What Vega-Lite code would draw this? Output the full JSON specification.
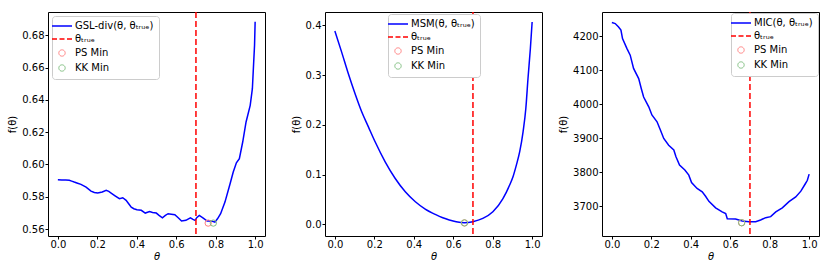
{
  "$schema": "https://vega.github.io/schema/vega-lite/v6.json",
  "padding": {"left": 7, "top": 10, "right": 0, "bottom": 0},
  "autosize": {"type": "pad"},
  "background": "white",
  "datasets": {
    "gsl": [
      {"theta": 0.0, "f": 0.5905}, {"theta": 0.02, "f": 0.5904}, {"theta": 0.04, "f": 0.5903}, {"theta": 0.058, "f": 0.5902},
      {"theta": 0.07, "f": 0.5897}, {"theta": 0.083, "f": 0.5891}, {"theta": 0.1, "f": 0.5884}, {"theta": 0.117, "f": 0.5877},
      {"theta": 0.143, "f": 0.586}, {"theta": 0.168, "f": 0.5835}, {"theta": 0.185, "f": 0.5826}, {"theta": 0.202, "f": 0.5823},
      {"theta": 0.225, "f": 0.583}, {"theta": 0.245, "f": 0.584}, {"theta": 0.258, "f": 0.5833}, {"theta": 0.27, "f": 0.5823},
      {"theta": 0.29, "f": 0.5806}, {"theta": 0.312, "f": 0.5788}, {"theta": 0.329, "f": 0.5794}, {"theta": 0.346, "f": 0.5778},
      {"theta": 0.36, "f": 0.5755}, {"theta": 0.372, "f": 0.5736}, {"theta": 0.385, "f": 0.5726}, {"theta": 0.401, "f": 0.572},
      {"theta": 0.423, "f": 0.5716}, {"theta": 0.443, "f": 0.5699}, {"theta": 0.465, "f": 0.5708}, {"theta": 0.48, "f": 0.5702},
      {"theta": 0.499, "f": 0.5699}, {"theta": 0.513, "f": 0.5685}, {"theta": 0.53, "f": 0.567}, {"theta": 0.545, "f": 0.5685},
      {"theta": 0.559, "f": 0.5695}, {"theta": 0.575, "f": 0.5692}, {"theta": 0.593, "f": 0.5689}, {"theta": 0.61, "f": 0.567},
      {"theta": 0.627, "f": 0.565}, {"theta": 0.649, "f": 0.5654}, {"theta": 0.66, "f": 0.5662}, {"theta": 0.672, "f": 0.567},
      {"theta": 0.685, "f": 0.566}, {"theta": 0.695, "f": 0.5654}, {"theta": 0.705, "f": 0.5672}, {"theta": 0.717, "f": 0.5685},
      {"theta": 0.737, "f": 0.5668}, {"theta": 0.757, "f": 0.565}, {"theta": 0.78, "f": 0.565}, {"theta": 0.796, "f": 0.5643},
      {"theta": 0.81, "f": 0.5665}, {"theta": 0.825, "f": 0.5695}, {"theta": 0.847, "f": 0.5767}, {"theta": 0.873, "f": 0.5881},
      {"theta": 0.889, "f": 0.5953}, {"theta": 0.905, "f": 0.601}, {"theta": 0.92, "f": 0.6036}, {"theta": 0.937, "f": 0.6139},
      {"theta": 0.954, "f": 0.6263}, {"theta": 0.975, "f": 0.6366}, {"theta": 0.986, "f": 0.6469}, {"theta": 0.991, "f": 0.6593},
      {"theta": 0.997, "f": 0.6738}, {"theta": 1.0, "f": 0.6883}
    ],
    "msm": [
      {"theta": 0.0, "f": 0.3887}, {"theta": 0.034, "f": 0.3466}, {"theta": 0.068, "f": 0.303}, {"theta": 0.102, "f": 0.2629},
      {"theta": 0.136, "f": 0.2262}, {"theta": 0.17, "f": 0.196}, {"theta": 0.204, "f": 0.166}, {"theta": 0.255, "f": 0.1258},
      {"theta": 0.306, "f": 0.0923}, {"theta": 0.357, "f": 0.0656}, {"theta": 0.408, "f": 0.0456}, {"theta": 0.458, "f": 0.0309},
      {"theta": 0.509, "f": 0.0201}, {"theta": 0.547, "f": 0.0134}, {"theta": 0.58, "f": 0.009}, {"theta": 0.615, "f": 0.0054},
      {"theta": 0.657, "f": 0.0034}, {"theta": 0.699, "f": 0.0054}, {"theta": 0.75, "f": 0.012}, {"theta": 0.801, "f": 0.0254},
      {"theta": 0.852, "f": 0.052}, {"theta": 0.886, "f": 0.079}, {"theta": 0.903, "f": 0.0957}, {"theta": 0.92, "f": 0.119},
      {"theta": 0.937, "f": 0.146}, {"theta": 0.954, "f": 0.186}, {"theta": 0.968, "f": 0.2328}, {"theta": 0.979, "f": 0.293},
      {"theta": 0.991, "f": 0.353}, {"theta": 1.0, "f": 0.4067}
    ],
    "mic": [
      {"theta": 0.0, "f": 4240}, {"theta": 0.017, "f": 4237}, {"theta": 0.034, "f": 4227}, {"theta": 0.046, "f": 4218},
      {"theta": 0.054, "f": 4193}, {"theta": 0.076, "f": 4164}, {"theta": 0.093, "f": 4144}, {"theta": 0.11, "f": 4105},
      {"theta": 0.136, "f": 4075}, {"theta": 0.149, "f": 4046}, {"theta": 0.161, "f": 4021}, {"theta": 0.187, "f": 3992},
      {"theta": 0.203, "f": 3968}, {"theta": 0.229, "f": 3948}, {"theta": 0.246, "f": 3924}, {"theta": 0.263, "f": 3899},
      {"theta": 0.288, "f": 3879}, {"theta": 0.314, "f": 3865}, {"theta": 0.325, "f": 3845}, {"theta": 0.343, "f": 3821},
      {"theta": 0.37, "f": 3806}, {"theta": 0.39, "f": 3791}, {"theta": 0.404, "f": 3769}, {"theta": 0.432, "f": 3752},
      {"theta": 0.458, "f": 3742}, {"theta": 0.475, "f": 3729}, {"theta": 0.492, "f": 3714}, {"theta": 0.526, "f": 3695},
      {"theta": 0.559, "f": 3683}, {"theta": 0.577, "f": 3678}, {"theta": 0.585, "f": 3663}, {"theta": 0.627, "f": 3662},
      {"theta": 0.661, "f": 3656}, {"theta": 0.695, "f": 3654}, {"theta": 0.729, "f": 3654}, {"theta": 0.754, "f": 3659},
      {"theta": 0.78, "f": 3666}, {"theta": 0.805, "f": 3669}, {"theta": 0.831, "f": 3683}, {"theta": 0.864, "f": 3695},
      {"theta": 0.898, "f": 3713}, {"theta": 0.932, "f": 3727}, {"theta": 0.958, "f": 3744}, {"theta": 0.98, "f": 3765},
      {"theta": 0.991, "f": 3776}, {"theta": 1.0, "f": 3794}
    ],
    "truth": [{"theta": 0.7, "series": "θₜᵣᵤₑ"}],
    "min1": [{"theta": 0.762, "f": 0.5637, "series": "PS Min"}, {"theta": 0.788, "f": 0.5637, "series": "KK Min"}],
    "min2": [{"theta": 0.657, "f": 0.003, "series": "PS Min"}, {"theta": 0.657, "f": 0.003, "series": "KK Min"}],
    "min3": [{"theta": 0.658, "f": 3651, "series": "PS Min"}, {"theta": 0.658, "f": 3651, "series": "KK Min"}]
  },
  "spacing": 60,
  "bounds": "flush",
  "resolve": {"scale": {"color": "independent", "y": "independent"}, "legend": {"color": "independent"}},
  "hconcat": [
    {
      "width": 217, "height": 224,
      "layer": [
        {
          "data": {"name": "gsl"},
          "mark": {"type": "line", "strokeWidth": 1.5},
          "encoding": {
            "x": {"field": "theta", "type": "quantitative", "scale": {"domain": [-0.05, 1.05], "nice": false, "zero": false}, "axis": {"values": [0, 0.2, 0.4, 0.6, 0.8, 1.0], "tickCount": 12, "format": ".1f", "title": "θ", "titleFontStyle": "italic", "labelPadding": 0, "titlePadding": 2}},
            "y": {"field": "f", "type": "quantitative", "scale": {"domain": [0.5557, 0.6944], "nice": false, "zero": false}, "axis": {"values": [0.56, 0.58, 0.6, 0.62, 0.64, 0.66, 0.68], "tickCount": 12, "format": ".2f", "title": "f(θ)", "labelPadding": 1}},
            "color": {"datum": "GSL-div(θ, θₜᵣᵤₑ)", "type": "nominal", "title": null,
              "scale": {"domain": ["GSL-div(θ, θₜᵣᵤₑ)", "θₜᵣᵤₑ", "PS Min", "KK Min"], "range": ["#0000ff", "#ff0000", "#ff8080", "#80c080"]},
              "legend": {"orient": "top-left", "offset": 4, "title": null,
                "encode": {"symbols": {"update": {
                  "shape": {"signal": "datum.value == 'PS Min' || datum.value == 'KK Min' ? 'circle' : 'stroke'"},
                  "size": {"signal": "datum.value == 'PS Min' || datum.value == 'KK Min' ? 40 : 400"},
                  "strokeDash": {"signal": "datum.value == 'θₜᵣᵤₑ' ? [5, 2.5] : [1, 0]"},
                  "strokeWidth": {"signal": "datum.value == 'PS Min' || datum.value == 'KK Min' ? 1 : 1.5"},
                  "fill": {"value": "transparent"}
                }}}}}
          }
        },
        {
          "data": {"name": "truth"},
          "mark": {"type": "rule", "strokeDash": [6, 3], "strokeWidth": 1.5},
          "encoding": {"x": {"field": "theta", "type": "quantitative"}, "color": {"field": "series", "type": "nominal", "title": null}}
        },
        {
          "data": {"name": "min1"},
          "mark": {"type": "point", "filled": false, "size": 40, "strokeWidth": 1, "opacity": 1},
          "encoding": {"x": {"field": "theta", "type": "quantitative"}, "y": {"field": "f", "type": "quantitative"}, "color": {"field": "series", "type": "nominal", "title": null}}
        }
      ]
    },
    {
      "width": 217, "height": 224,
      "layer": [
        {
          "data": {"name": "msm"},
          "mark": {"type": "line", "strokeWidth": 1.5, "interpolate": "monotone"},
          "encoding": {
            "x": {"field": "theta", "type": "quantitative", "scale": {"domain": [-0.05, 1.05], "nice": false, "zero": false}, "axis": {"values": [0, 0.2, 0.4, 0.6, 0.8, 1.0], "tickCount": 12, "format": ".1f", "title": "θ", "titleFontStyle": "italic", "labelPadding": 0, "titlePadding": 2}},
            "y": {"field": "f", "type": "quantitative", "scale": {"domain": [-0.0233, 0.4267], "nice": false, "zero": false}, "axis": {"values": [0, 0.1, 0.2, 0.3, 0.4], "tickCount": 12, "format": ".1f", "title": "f(θ)", "labelPadding": 1}},
            "color": {"datum": "MSM(θ, θₜᵣᵤₑ)", "type": "nominal", "title": null,
              "scale": {"domain": ["MSM(θ, θₜᵣᵤₑ)", "θₜᵣᵤₑ", "PS Min", "KK Min"], "range": ["#0000ff", "#ff0000", "#ff8080", "#80c080"]},
              "legend": {"orient": "none", "legendX": 63, "legendY": 2, "title": null,
                "encode": {"symbols": {"update": {
                  "shape": {"signal": "datum.value == 'PS Min' || datum.value == 'KK Min' ? 'circle' : 'stroke'"},
                  "size": {"signal": "datum.value == 'PS Min' || datum.value == 'KK Min' ? 40 : 400"},
                  "strokeDash": {"signal": "datum.value == 'θₜᵣᵤₑ' ? [5, 2.5] : [1, 0]"},
                  "strokeWidth": {"signal": "datum.value == 'PS Min' || datum.value == 'KK Min' ? 1 : 1.5"},
                  "fill": {"value": "transparent"}
                }}}}}
          }
        },
        {
          "data": {"name": "truth"},
          "mark": {"type": "rule", "strokeDash": [6, 3], "strokeWidth": 1.5},
          "encoding": {"x": {"field": "theta", "type": "quantitative"}, "color": {"field": "series", "type": "nominal", "title": null}}
        },
        {
          "data": {"name": "min2"},
          "mark": {"type": "point", "filled": false, "size": 40, "strokeWidth": 1, "opacity": 1},
          "encoding": {"x": {"field": "theta", "type": "quantitative"}, "y": {"field": "f", "type": "quantitative"}, "color": {"field": "series", "type": "nominal", "title": null}}
        }
      ]
    },
    {
      "width": 217, "height": 224,
      "layer": [
        {
          "data": {"name": "mic"},
          "mark": {"type": "line", "strokeWidth": 1.5},
          "encoding": {
            "x": {"field": "theta", "type": "quantitative", "scale": {"domain": [-0.05, 1.05], "nice": false, "zero": false}, "axis": {"values": [0, 0.2, 0.4, 0.6, 0.8, 1.0], "tickCount": 12, "format": ".1f", "title": "θ", "titleFontStyle": "italic", "labelPadding": 0, "titlePadding": 2}},
            "y": {"field": "f", "type": "quantitative", "scale": {"domain": [3612, 4271], "nice": false, "zero": false}, "axis": {"values": [3700, 3800, 3900, 4000, 4100, 4200], "tickCount": 12, "format": "d", "title": "f(θ)", "labelPadding": 1}},
            "color": {"datum": "MIC(θ, θₜᵣᵤₑ)", "type": "nominal", "title": null,
              "scale": {"domain": ["MIC(θ, θₜᵣᵤₑ)", "θₜᵣᵤₑ", "PS Min", "KK Min"], "range": ["#0000ff", "#ff0000", "#ff8080", "#80c080"]},
              "legend": {"orient": "top-right", "offset": 1, "title": null,
                "encode": {"symbols": {"update": {
                  "shape": {"signal": "datum.value == 'PS Min' || datum.value == 'KK Min' ? 'circle' : 'stroke'"},
                  "size": {"signal": "datum.value == 'PS Min' || datum.value == 'KK Min' ? 40 : 400"},
                  "strokeDash": {"signal": "datum.value == 'θₜᵣᵤₑ' ? [5, 2.5] : [1, 0]"},
                  "strokeWidth": {"signal": "datum.value == 'PS Min' || datum.value == 'KK Min' ? 1 : 1.5"},
                  "fill": {"value": "transparent"}
                }}}}}
          }
        },
        {
          "data": {"name": "truth"},
          "mark": {"type": "rule", "strokeDash": [6, 3], "strokeWidth": 1.5},
          "encoding": {"x": {"field": "theta", "type": "quantitative"}, "color": {"field": "series", "type": "nominal", "title": null}}
        },
        {
          "data": {"name": "min3"},
          "mark": {"type": "point", "filled": false, "size": 40, "strokeWidth": 1, "opacity": 1},
          "encoding": {"x": {"field": "theta", "type": "quantitative"}, "y": {"field": "f", "type": "quantitative"}, "color": {"field": "series", "type": "nominal", "title": null}}
        }
      ]
    }
  ],
  "config": {
    "font": "DejaVu Sans",
    "view": {"stroke": "#000000", "strokeWidth": 1},
    "axis": {"domain": false, "grid": false, "ticks": true, "labelOverlap": false, "tickColor": "#000000", "tickSize": 3, "labelFontSize": 10, "labelColor": "#000000", "labelFont": "DejaVu Sans", "labelPadding": 2, "titleFontSize": 10, "titleFontWeight": "normal", "titleColor": "#000000", "titleFont": "DejaVu Sans", "titlePadding": 4},
    "legend": {"fillColor": "white", "strokeColor": "#cccccc", "cornerRadius": 3, "padding": 5, "labelFont": "DejaVu Sans", "labelFontSize": 10, "labelColor": "#000000", "labelLimit": 300, "rowPadding": 3, "symbolSize": 400, "symbolStrokeWidth": 1.5, "labelOffset": 8}
  }
}
